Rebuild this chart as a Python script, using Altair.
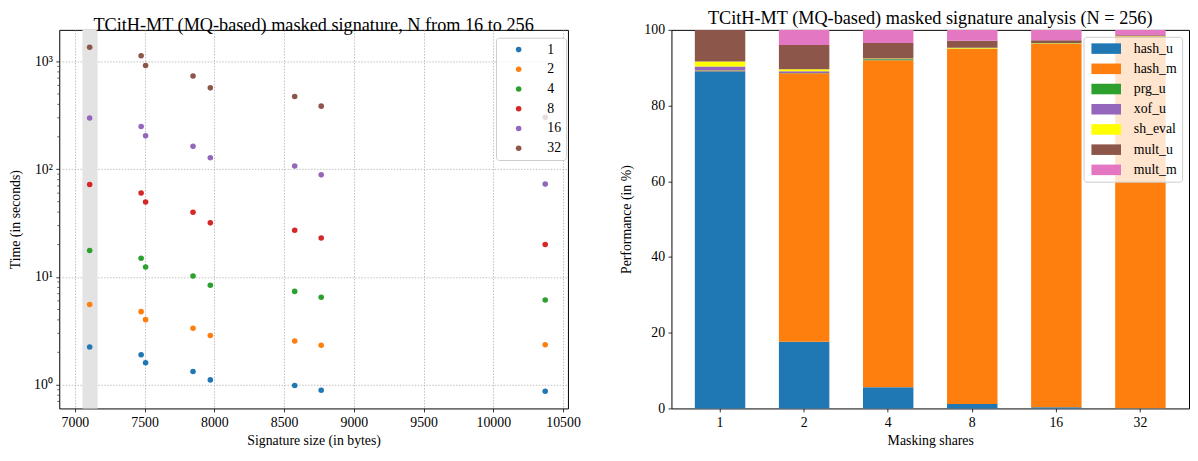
import altair as alt
import pandas as pd

# ---------------- Left panel data ----------------
sig_sizes = [7106, 7475, 7507, 7847, 7971, 8576, 8766, 10372]
share_labels = ["1", "2", "4", "8", "16", "32"]
time_1 = [2.24, 1.90, 1.60, 1.33, 1.11, 0.986, 0.888, 0.869]
time_2 = [5.55, 4.77, 4.02, 3.35, 2.86, 2.55, 2.33, 2.35]
time_4 = [17.6, 14.9, 12.4, 10.2, 8.39, 7.35, 6.48, 6.12]
time_8 = [72.2, 60.2, 49.7, 39.9, 31.8, 27.2, 23.0, 20.0]
time_16 = [299, 249, 204, 163, 128, 107, 88.7, 72.8]
time_32 = [1355, 1128, 919, 733, 569, 473, 385, 303]
share_colors = ["#1f77b4", "#ff7f0e", "#2ca02c", "#d62728", "#9467bd", "#8c564b"]
band_start = [7054]
band_end = [7163]
x_ticks = [7000, 7500, 8000, 8500, 9000, 9500, 10000, 10500]
y_major = [1, 10, 100, 1000]
y_minor = [0.7, 0.8, 0.9, 2, 3, 4, 5, 6, 7, 8, 9, 20, 30, 40, 50, 60, 70, 80, 90,
           200, 300, 400, 500, 600, 700, 800, 900]
x_domain = [6888, 10535]
y_domain = [0.603, 1964]

# ---------------- Right panel data ----------------
components = ["hash_u", "hash_m", "prg_u", "xof_u", "sh_eval", "mult_u", "mult_m"]
comp_colors = ["#1f77b4", "#ff7f0e", "#2ca02c", "#9467bd", "#ffff00", "#8c564b", "#e377c2"]
hash_u = [89.1, 17.6, 5.6, 1.2, 0.3, 0.08]
hash_m = [0.2, 70.95, 86.4, 93.8, 96.0, 98.1]
prg_u = [0.05, 0.05, 0.25, 0.05, 0.02, 0.02]
xof_u = [1.0, 0.5, 0.05, 0.0, 0.0, 0.0]
sh_eval = [1.3, 0.5, 0.15, 0.2, 0.15, 0.1]
mult_u = [8.35, 6.4, 4.1, 1.85, 0.8, 0.3]
mult_m = [0.0, 4.0, 3.45, 2.9, 2.73, 1.4]
perf_ticks = [0, 20, 40, 60, 80, 100]

FONT = "Liberation Serif"

# ---------- build tables ----------
series = [time_1, time_2, time_4, time_8, time_16, time_32]
rows = []
for si, (lab, vals) in enumerate(zip(share_labels, series)):
    for s, t in zip(sig_sizes, vals):
        rows.append({"size": s, "time": t, "share": lab, "k": si})
scatter_df = pd.DataFrame(rows)
band_df = pd.DataFrame({"start": band_start, "end": band_end})
minor_df = pd.DataFrame({"v": y_minor})

comp_vals = [hash_u, hash_m, prg_u, xof_u, sh_eval, mult_u, mult_m]
brow = []
for ci, (c, vals) in enumerate(zip(components, comp_vals)):
    for sh, v in zip(share_labels, vals):
        brow.append({"share": sh, "component": c, "value": v, "idx": ci})
bar_df = pd.DataFrame(brow)

# ---------- left panel ----------
xscale = alt.Scale(domain=x_domain, nice=False, zero=False)
yscale = alt.Scale(type="log", domain=y_domain, nice=False)

x_axis = alt.Axis(title="Signature size (in bytes)", values=x_ticks, format="d",
                  grid=True, gridDash=[1.5, 1.5], gridColor="#b0b0b0", gridWidth=0.8,
                  domain=False, titlePadding=5)
sup = "{'1':'10⁰','10':'10¹','100':'10²','1000':'10³'}[''+datum.value]"
y_axis = alt.Axis(title="Time (in seconds)", values=y_major, labelExpr=sup,
                  grid=True, gridDash=[1.5, 1.5], gridColor="#b0b0b0", gridWidth=0.8,
                  domain=False, titlePadding=11)

band = alt.Chart(band_df).mark_rect(color="#e3e3e3").encode(
    x=alt.X("start:Q", scale=xscale, axis=x_axis),
    x2="end:Q",
)

points = alt.Chart(scatter_df).mark_circle(size=32, opacity=1).encode(
    x=alt.X("size:Q", scale=xscale, axis=x_axis),
    y=alt.Y("time:Q", scale=yscale, axis=y_axis),
    color=alt.Color("share:N", scale=alt.Scale(domain=share_labels, range=share_colors),
                    legend=alt.Legend(title=None, orient="none", legendX=443, legendY=8,
                                      symbolType="circle", symbolSize=32,
                                      symbolStrokeWidth=0, labelFontSize=14,
                                      symbolOffset=11, labelOffset=22, rowPadding=6,
                                      padding=5, fillColor="rgba(255,255,255,0.8)",
                                      strokeColor="#cccccc", cornerRadius=3)),
    order=alt.Order("k:Q"),
)

minor = alt.Chart(minor_df).mark_rule(color="black", strokeWidth=0.6).encode(
    y=alt.Y("v:Q", scale=yscale, axis=y_axis),
    x=alt.value(0),
    x2=alt.value(-2),
)

left = alt.layer(band, points, minor).properties(
    width=516, height=384,
    title=alt.Title("TCitH-MT (MQ-based) masked signature, N from 16 to 256",
                    fontSize=18.5, fontWeight="normal", anchor="middle", offset=-5,
                    frame="group"),
)

# ---------- right panel ----------
rect_path = "M-3,-1.07L3,-1.07L3,1.07L-3,1.07Z"
bars = alt.Chart(bar_df).mark_bar(strokeWidth=0).encode(
    x=alt.X("share:N", sort=share_labels,
            scale=alt.Scale(paddingInner=0.4, paddingOuter=0.278),
            axis=alt.Axis(title="Masking shares", labelAngle=0, domain=False, titlePadding=5)),
    y=alt.Y("value:Q", stack="zero", scale=alt.Scale(domain=[0, 100], nice=False),
            axis=alt.Axis(title="Performance (in %)", values=perf_ticks, domain=False,
                          grid=False, titlePadding=11)),
    color=alt.Color("component:N", scale=alt.Scale(domain=components, range=comp_colors),
                    legend=alt.Legend(title=None, orient="none", legendX=418, legendY=7,
                                      symbolType=rect_path, symbolSize=100,
                                      symbolStrokeWidth=0, labelFontSize=14,
                                      symbolOffset=11, labelOffset=21, rowPadding=6.5,
                                      padding=5, fillColor="rgba(255,255,255,0.8)",
                                      strokeColor="#cccccc", cornerRadius=3)),
    order=alt.Order("idx:Q", sort="ascending"),
).properties(
    width=525, height=384,
    title=alt.Title("TCitH-MT (MQ-based) masked signature analysis (N = 256)",
                    fontSize=18.5, fontWeight="normal", anchor="middle", offset=-5,
                    frame="group"),
)

chart = alt.hconcat(left, bars, spacing=37).resolve_scale(
    color="independent"
).resolve_legend(
    color="independent"
).configure(
    font=FONT,
    padding={"left": 0, "top": -2, "right": 0, "bottom": 0},
).configure_view(
    stroke="black", strokeWidth=1,
).configure_axis(
    labelFont=FONT, titleFont=FONT, labelFontSize=14, titleFontSize=14,
    titleFontWeight="normal", labelColor="black", titleColor="black",
    tickColor="black", tickSize=3.5, tickWidth=0.8, labelPadding=3.5,
).configure_legend(
    labelFont=FONT, labelColor="black",
).configure_title(
    font=FONT, color="black",
)

chart.save("out.html", embed_options={"renderer": "svg", "actions": False})
